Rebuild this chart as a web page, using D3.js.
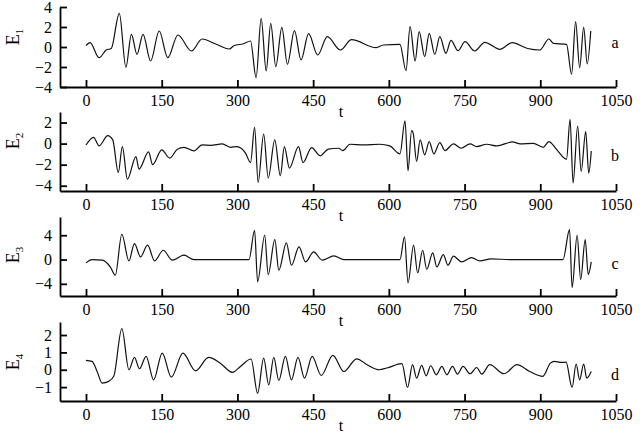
<!DOCTYPE html>
<html>
<head>
<meta charset="utf-8">
<script src="https://cdn.jsdelivr.net/npm/d3@7"></script>
<style>
  body { margin: 0; background: #fff; }
  svg { display: block; font-family: "Liberation Serif", "Times New Roman", serif; }
  .axis path, .axis line { stroke: #000; stroke-width: 1.8; }
  .axis text { font-size: 16px; fill: #000; font-family: "Liberation Serif", serif; }
</style>
</head>
<body>
<script>
const xTicks = [0, 150, 300, 450, 600, 750, 900, 1050];

const e1Time = [0, 8, 26, 40, 50, 66, 79, 90, 101, 113, 128, 145, 162, 182, 209, 230, 257, 284, 293, 312, 326,
  337, 347, 357, 366, 376, 388, 399, 413, 426, 441, 459, 478, 504, 526, 575, 589, 622, 634, 642, 652,
  660, 671, 680, 691, 701, 713, 723, 737, 751, 770, 790, 820, 844, 875, 899, 917, 926, 952, 962, 970, 978,
  986, 993, 1000];
const e1Value = [0.13, 0.43, -1.07, -0.3, -0.15, 3.37, -2.03, 1.27, -0.73, 1.27, -1.4, 1.6, -1.07, 1.2, -0.4, 0.8, 0.3, -0.2, 0.13, 0.33, 0.6,
  -3.07, 2.87, -2.4, 2.37, -1.97, 1.97, -1.73, 1.63, -1.3, 1.33, -0.8, 1.03, -0.3, 0.73, -0.07, 0.2, 0.27, -2.37, 2.03, -1.4,
  1.53, -0.97, 1.37, -0.73, 1.03, -0.63, 0.67, -0.37, 0.53, -0.4, 0.47, -0.23, 0.43, -0.15, -0.3, 0.8, 0.37, 0.27, -2.73, 2.53, -2.07,
  1.97, -1.7, 1.6];

const e2Time = [0, 15, 26, 43, 53, 64, 72, 82, 99, 105, 124, 132, 150, 166, 181, 194, 214, 230, 247, 270,
  286, 299, 316, 326, 334, 341, 352, 361, 374, 385, 393, 403, 421, 430, 447, 464, 480, 500, 509, 523,
  549, 582, 602, 622, 632, 638, 645, 648, 655, 662, 671, 680, 689, 701, 711, 728, 743, 761, 774, 794,
  814, 845, 860, 886, 906, 917, 933, 952, 959, 965, 974, 981, 990, 996, 1001];
const e2Value = [-0.13, 0.6, -0.22, 0.75, 0.35, -2.74, -0.28, -3.37, -1.23, -2.42, -0.79, -2.0, -0.6, -1.38, -0.53, -0.35, -0.69, -0.13, -0.16, -0.03,
  -0.35, -0.28, -0.9, -1.8, 1.54, -3.68, 0.9, -3.27, 0.35, -3.05, -0.28, -2.33, -0.28, -1.8, -0.38, -1.16, -0.53, -0.44, -0.66, -0.06,
  -0.13, -0.06, -0.22, -0.97, 2.17, -2.58, 1.23, 1.04, -1.7, 0.35, -1.07, 0.19, -0.97, 0.1, -0.66, -0.03, -0.44, -0.03, -0.28, -0.06,
  -0.22, 0.16, -0.03, 0.03, -0.35, 0.19, -0.6, -1.48, 2.3, -3.74, 1.67, -2.64, 1.13, -2.8, -0.7];

const e3Time = [0, 12, 32, 48, 58, 71, 85, 96, 108, 122, 136, 153, 171, 194, 214, 323, 334, 340, 354, 361,
  374, 382, 397, 407, 422, 435, 451, 468, 491, 511, 622, 631, 638, 649, 657, 667, 675, 687, 695, 708,
  717, 728, 744, 764, 780, 803, 840, 945, 958, 963, 973, 980, 989, 995, 1001];
const e3Value = [-0.55, 0, -0.1, -1.2, -2.58, 4.16, -0.22, 2.63, 0.44, 2.36, -0.22, 1.53, -0.1, 0.71, 0, 0, 4.82, -3.67, 4.0, -2.47,
  3.29, -1.75, 2.74, -0.93, 2.08, -0.38, 1.26, -0.1, 0.6, 0, 0, 3.73, -3.84, 2.36, -2.2, 1.53, -1.6, 1.1, -1.2, 0.82,
  -0.93, 0.55, -0.38, 0.33, -0.22, 0.1, 0, 0, 4.93, -4.6, 4.0, -3.29, 3.29, -2.47, -0.38];

const e4Time = [0, 12, 22, 32, 45, 55, 71, 85, 96, 106, 119, 134, 151, 169, 192, 217, 243, 266, 290, 306,
  327, 340, 352, 362, 372, 382, 395, 407, 420, 433, 448, 466, 489, 511, 536, 557, 581, 596, 626, 637,
  647, 655, 665, 674, 683, 694, 705, 715, 726, 736, 747, 761, 774, 784, 800, 828, 854, 879, 905, 920,
  928, 942, 951, 963, 971, 978, 986, 992, 1001];
const e4Value = [0.54, 0.48, -0.1, -0.77, -0.67, -0.38, 2.37, 0, 0.71, 0.06, 0.77, -0.58, 0.96, -0.42, 0.96, -0.06, 0.71, 0.38, -0.15, 0.19,
  0.62, -1.35, 0.67, -0.87, 0.71, -0.62, 0.77, -0.58, 0.71, -0.48, 0.77, -0.33, 0.83, -0.1, 0.63, 0.29, 0, 0.1, 0.35, -1.02,
  0.29, -0.48, 0.25, -0.35, 0.23, -0.29, 0.19, -0.29, 0.19, -0.25, 0.19, -0.23, 0.13, -0.25, 0.29, -0.23, 0.29, -0.1, -0.38, 0.38,
  0.48, 0.42, 0.44, -1.02, 0.33, -0.58, 0.33, -0.48, -0.1];

const panelSub = ["1", "2", "3", "4"];
const panelLetter = ["a", "b", "c", "d"];
const panelDomain = [[-4, 4], [-4.5, 3], [-6, 7], [-1.8, 2.75]];
const panelYTicks = [[-4, -2, 0, 2, 4], [-4, -2, 0, 2], [-4, 0, 4], [-1, 0, 1, 2]];
const panelTime = [e1Time, e2Time, e3Time, e4Time];
const panelValue = [e1Value, e2Value, e3Value, e4Value];

const w = 640;
const h = 438;
const left = 60;
const right = 616;
const tops = [7, 112, 217, 322];
const bottoms = [87, 191, 296, 401];
const letterY = [48, 161, 269, 380];
const labelY = [37, 141, 255, 362];

const svg = d3.select("body")
  .append("svg")
  .attr("width", w)
  .attr("height", h);

svg.append("rect").attr("width", w).attr("height", h).attr("fill", "#fff");

// x axis starts a bit left of t = 0
const xScale = d3.scaleLinear()
  .domain([-51.5, 1050])
  .range([left, right]);

panelSub.forEach((sub, i) => {
  const yScale = d3.scaleLinear()
    .domain(panelDomain[i])
    .range([bottoms[i], tops[i]]);

  const g = svg.append("g");

  const xAxis = d3.axisBottom(xScale)
    .tickValues(xTicks)
    .tickSizeInner(-7)
    .tickSizeOuter(0)
    .tickPadding(8)
    .tickFormat(d3.format("d"));

  g.append("g")
    .attr("class", "axis")
    .attr("transform", "translate(0," + bottoms[i] + ")")
    .call(xAxis);

  const yAxis = d3.axisLeft(yScale)
    .tickValues(panelYTicks[i])
    .tickSizeInner(-7)
    .tickSizeOuter(0)
    .tickPadding(8)
    .tickFormat(d3.format("d"));

  g.append("g")
    .attr("class", "axis")
    .attr("transform", "translate(" + left + ",0)")
    .call(yAxis);

  const pts = panelTime[i].map((t, k) => [t, panelValue[i][k]]);
  const line = d3.line()
    .x(d => xScale(d[0]))
    .y(d => yScale(d[1]))
    .curve(d3.curveMonotoneX);

  g.append("path")
    .datum(pts)
    .attr("d", line)
    .attr("fill", "none")
    .attr("stroke", "#111")
    .attr("stroke-width", 1.2);

  // "t" under the axis
  g.append("text")
    .attr("x", 341)
    .attr("y", bottoms[i] + 30)
    .attr("text-anchor", "middle")
    .attr("font-size", 16)
    .text("t");

  // panel letter
  g.append("text")
    .attr("x", 615)
    .attr("y", letterY[i])
    .attr("text-anchor", "middle")
    .attr("font-size", 16)
    .text(panelLetter[i]);

  // rotated E label with subscript
  const lab = g.append("text")
    .attr("transform", "translate(19," + labelY[i] + ") rotate(-90)")
    .attr("text-anchor", "middle")
    .attr("font-size", 18);
  lab.append("tspan").text("E");
  lab.append("tspan")
    .attr("font-size", 11)
    .attr("dy", 4)
    .text(sub);
});
</script>
</body>
</html>
